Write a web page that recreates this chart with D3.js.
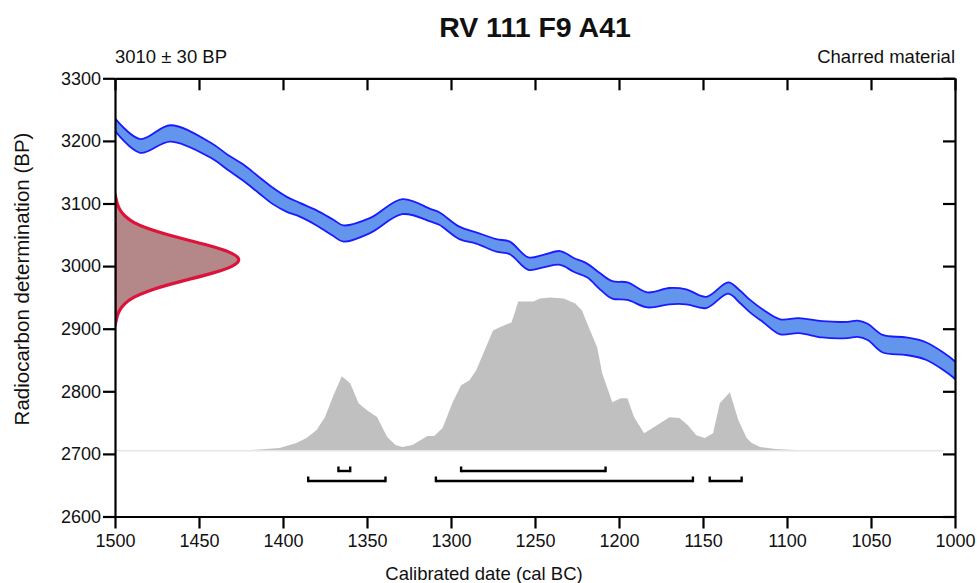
<!DOCTYPE html>
<html>
<head>
<meta charset="utf-8">
<script src="https://cdn.jsdelivr.net/npm/d3@7"></script>
<style>
  html, body { margin: 0; padding: 0; background: #fff; }
  svg { display: block; font-family: "Liberation Sans", Arial, sans-serif; }
</style>
</head>
<body>
<svg id="chart" width="977" height="583"></svg>
<script>
// ---- Data ----
const title = "RV 111 F9 A41";
const measurementLabel = "3010 \u00B1 30 BP";
const materialLabel = "Charred material";
const xTicks = [1500, 1450, 1400, 1350, 1300, 1250, 1200, 1150, 1100, 1050, 1000];
const yTicks = [2600, 2700, 2800, 2900, 3000, 3100, 3200, 3300];

// Calibration curve (cal BC, BP centre, 1-sigma)
const curveYears = [1500, 1485, 1467, 1443, 1433, 1424, 1415, 1406, 1398, 1390, 1380, 1370, 1364, 1348, 1329, 1312, 1307, 1295, 1285, 1273, 1265, 1254, 1245, 1235, 1227, 1219, 1211, 1204, 1195, 1183, 1170, 1160, 1148, 1135, 1128, 1122, 1114, 1104, 1093, 1079, 1064, 1058, 1052, 1043, 1029, 1017, 1001, 1000];
const curveBP = [3226, 3192, 3212, 3185, 3166, 3150, 3131, 3112, 3099, 3090, 3077, 3061, 3052, 3065, 3095, 3081, 3076, 3053, 3045, 3033, 3029, 3004, 3008, 3013, 3002, 2993, 2975, 2962, 2960, 2946, 2952, 2951, 2942, 2965, 2951, 2936, 2920, 2903, 2905, 2899, 2898, 2900, 2895, 2876, 2872, 2864, 2836, 2833];
const curveSigma = [10, 11, 13, 12, 12, 13, 13, 13, 12, 11, 12, 13, 13, 12, 12, 10, 10, 10, 9, 10, 10, 10, 10, 11, 11, 11, 13, 14, 14, 12, 13, 12, 9, 9, 10, 10, 10, 12, 12, 13, 13, 13, 13, 14, 14, 14, 14, 14];

// Radiocarbon measurement likelihood (BP, relative density)
const likeBP = [2905, 2910, 2920, 2930, 2940, 2950, 2960, 2970, 2980, 2990, 3000, 3010, 3020, 3030, 3040, 3050, 3060, 3070, 3080, 3090, 3100, 3110, 3115];
const likeDensity = [0.0, 0.006, 0.016, 0.036, 0.075, 0.14, 0.255, 0.415, 0.61, 0.8, 0.946, 1.0, 0.946, 0.8, 0.61, 0.415, 0.255, 0.14, 0.075, 0.036, 0.016, 0.006, 0.0];

// Calibrated probability distribution (cal BC, relative probability)
const probYears = [1432, 1414, 1402, 1392, 1386, 1380, 1375, 1370, 1365, 1360, 1355, 1350, 1344, 1338, 1333, 1329, 1323, 1314, 1310, 1305, 1299, 1294, 1289, 1285, 1275, 1271, 1264, 1262, 1260, 1251, 1247, 1241, 1233, 1226, 1222, 1219, 1213, 1210, 1204, 1199, 1195, 1191, 1185, 1180, 1170, 1164, 1159, 1154, 1149, 1144, 1140, 1134, 1129, 1124, 1121, 1116, 1107, 1092, 1080];
const probValues = [0.0, 0.008, 0.018, 0.05, 0.083, 0.135, 0.22, 0.36, 0.486, 0.44, 0.31, 0.265, 0.22, 0.09, 0.037, 0.024, 0.037, 0.096, 0.096, 0.148, 0.317, 0.427, 0.46, 0.525, 0.785, 0.805, 0.837, 0.902, 0.974, 0.974, 0.993, 1.0, 0.993, 0.961, 0.915, 0.831, 0.675, 0.506, 0.317, 0.343, 0.343, 0.219, 0.115, 0.148, 0.219, 0.213, 0.167, 0.102, 0.083, 0.115, 0.31, 0.382, 0.2, 0.083, 0.05, 0.024, 0.011, 0.004, 0.0];

// Calibrated ranges (cal BC)
const ranges68 = [[1367, 1360], [1294, 1208]];
const ranges95 = [[1385, 1339], [1309, 1156], [1146, 1127]];

// ---- Layout ----
const svg = d3.select("#chart");
const pLeft = 115, pRight = 955, pTop = 78.3, pBottom = 516.5;

const x = d3.scaleLinear().domain([1500, 1000]).range([pLeft, pRight]);
const y = d3.scaleLinear().domain([2600, 3300]).range([pBottom, pTop]);
const probY = d3.scaleLinear().domain([0, 1]).range([y(2705), y(2950)]);
const likeX = d3.scaleLinear().domain([0, 1]).range([pLeft, 241]);

svg.append("defs").append("clipPath").attr("id", "plotClip")
  .append("rect").attr("x", pLeft).attr("y", pTop).attr("width", pRight - pLeft).attr("height", pBottom - pTop);

const plot = svg.append("g").attr("clip-path", "url(#plotClip)");

// Calibrated probability (grey)
const probData = probYears.map((d, i) => ({ yr: d, p: probValues[i] }));
plot.append("path")
  .datum(probData)
  .attr("fill", "#c0c0c0")
  .attr("d", d3.area().x(d => x(d.yr)).y0(probY(0)).y1(d => probY(d.p)).curve(d3.curveLinear));

plot.append("line")
  .attr("x1", pLeft).attr("x2", pRight - 12)
  .attr("y1", probY(0)).attr("y2", probY(0))
  .attr("stroke", "#e6e6e6").attr("stroke-width", 1.5);

// Calibration curve (blue band)
const curveData = curveYears.map((d, i) => ({ yr: d, bp: curveBP[i], s: curveSigma[i] }));
const cr = d3.curveCatmullRom.alpha(0.5);
plot.append("path")
  .datum(curveData)
  .attr("fill", "#6495ed")
  .attr("d", d3.area().x(d => x(d.yr)).y0(d => y(d.bp - d.s)).y1(d => y(d.bp + d.s)).curve(cr));
[1, -1].forEach(sgn => {
  plot.append("path")
    .datum(curveData)
    .attr("fill", "none")
    .attr("stroke", "#1a1aff")
    .attr("stroke-width", 1.8)
    .attr("d", d3.line().x(d => x(d.yr)).y(d => y(d.bp + sgn * d.s)).curve(cr));
});

// Measurement likelihood (red)
const likeData = likeBP.map((d, i) => ({ bp: d, v: likeDensity[i] }));
plot.append("path")
  .datum(likeData)
  .attr("fill", "#b48888")
  .attr("stroke", "#dc143c")
  .attr("stroke-width", 3.2)
  .attr("stroke-linejoin", "round")
  .attr("d", d3.area().y(d => y(d.bp)).x0(likeX(0)).x1(d => likeX(d.v)).curve(d3.curveBasis));

// Range brackets
function bracket(r, yy, cap) {
  const g = svg.append("g").attr("stroke", "#000").attr("stroke-width", 2.4).attr("fill", "none");
  g.append("line").attr("x1", x(r[0])).attr("x2", x(r[1])).attr("y1", yy).attr("y2", yy);
  g.append("line").attr("x1", x(r[0])).attr("x2", x(r[0])).attr("y1", yy + 1.2).attr("y2", yy - cap);
  g.append("line").attr("x1", x(r[1])).attr("x2", x(r[1])).attr("y1", yy + 1.2).attr("y2", yy - cap);
}
ranges68.forEach(r => bracket(r, 471, 4.5));
ranges95.forEach(r => bracket(r, 481, 4.5));

// ---- Axes ----
const axisStyle = g => {
  g.selectAll(".domain").attr("stroke", "#000").attr("stroke-width", 2.2);
  g.selectAll(".tick line").attr("stroke", "#000").attr("stroke-width", 2.2);
  g.selectAll(".tick text").attr("fill", "#111").style("font-size", "18px")
    .style("font-family", "'Liberation Sans', Arial, sans-serif");
};

svg.append("g").attr("transform", `translate(0,${pBottom})`)
  .call(d3.axisBottom(x).tickValues(xTicks).tickFormat(d3.format("d")).tickSize(12).tickPadding(6).tickSizeOuter(0))
  .call(axisStyle);
svg.append("g").attr("transform", `translate(${pLeft},0)`)
  .call(d3.axisLeft(y).tickValues(yTicks).tickFormat(d3.format("d")).tickSize(12).tickPadding(2).tickSizeOuter(0))
  .call(axisStyle);
svg.append("g").attr("transform", `translate(0,${pTop})`)
  .call(d3.axisTop(x).tickValues(xTicks).tickFormat("").tickSize(-12).tickSizeOuter(0))
  .call(axisStyle);
svg.append("g").attr("transform", `translate(${pRight},0)`)
  .call(d3.axisRight(y).tickValues(yTicks).tickFormat("").tickSize(-12).tickSizeOuter(0))
  .call(axisStyle);

// ---- Text ----
svg.append("text").attr("x", (pLeft + pRight) / 2).attr("y", 37)
  .attr("text-anchor", "middle").style("font-size", "28.5px").style("font-weight", "bold")
  .attr("fill", "#111").text(title);
svg.append("text").attr("x", pLeft).attr("y", 63)
  .style("font-size", "18.5px").attr("fill", "#111").text(measurementLabel);
svg.append("text").attr("x", pRight).attr("y", 63).attr("text-anchor", "end")
  .style("font-size", "18.5px").attr("fill", "#111").text(materialLabel);
svg.append("text").attr("x", 484).attr("y", 580).attr("text-anchor", "middle")
  .style("font-size", "18.5px").attr("fill", "#111").text("Calibrated date (cal BC)");
svg.append("text").attr("transform", "translate(29,279) rotate(-90)").attr("text-anchor", "middle")
  .style("font-size", "20.5px").attr("fill", "#111").text("Radiocarbon determination (BP)");
</script>
</body>
</html>
